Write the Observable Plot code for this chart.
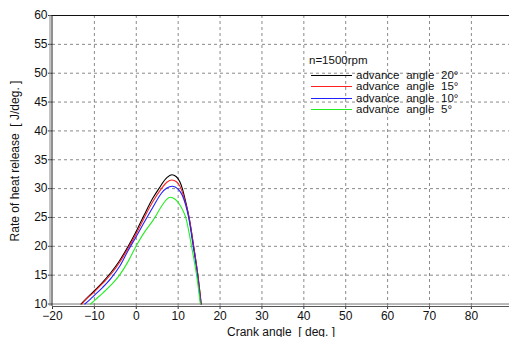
<!DOCTYPE html>
<html>
<head>
<meta charset="utf-8">
<script src="https://cdn.jsdelivr.net/npm/d3@7"></script>
<script src="https://cdn.jsdelivr.net/npm/@observablehq/plot@0.6"></script>
<style>
  html, body { margin: 0; padding: 0; background: #fff; }
  #wrap { position: relative; width: 509px; height: 337px; font-family: "Liberation Sans", Arial, sans-serif; }
  #legend { position: absolute; left: 309px; top: 54px; font-size: 11.5px; color: #111; line-height: 11.3px; }
  #legend .title { height: 16px; line-height: 13px; }
  #legend .row { display: flex; align-items: center; word-spacing: 3.5px; height: 11.3px; }
  #legend .sw { width: 41px; height: 0; border-top: 1.2px solid; margin-right: 4px; margin-left: 2px; }
</style>
</head>
<body>
<div id="wrap"></div>
<script>
// ---- data ----
const legendTitle = "n=1500rpm";
const seriesNames = ["advance angle 20°", "advance angle 15°", "advance angle 10°", "advance angle 5°"];
const seriesColors = ["#000000", "#ff2020", "#2020ff", "#22ee22"];

const angle20 = [-13.2, -12, -10, -8, -6, -4, -2, 0, 2, 4, 5.4, 7.3, 8.5, 9.5, 10.4, 11, 11.7, 12.6, 13.7, 14.7, 15.5];
const rate20  = [10.0, 10.9, 12.3, 13.8, 15.5, 17.5, 19.9, 22.6, 25.6, 28.4, 30.0, 31.9, 32.4, 32.1, 31.2, 30.0, 28.0, 25.0, 20.0, 15.0, 10.0];

const angle15 = [-13.0, -12, -10, -8, -6, -4, -2, 0, 2, 4, 6, 7.3, 8.5, 9.6, 10.5, 11.3, 12.6, 13.7, 14.7, 15.5];
const rate15  = [10.0, 10.8, 12.1, 13.6, 15.2, 17.2, 19.6, 22.2, 25.1, 27.8, 30.0, 31.1, 31.5, 31.2, 30.3, 28.7, 25.0, 20.0, 15.0, 10.0];

const angle10 = [-12.3, -11, -10, -8, -6, -4, -2, 0, 2, 4, 6, 7.3, 8.6, 10.0, 11.0, 12.5, 13.6, 14.6, 15.4];
const rate10  = [10.0, 10.8, 11.5, 12.9, 14.5, 16.5, 19.2, 21.7, 24.3, 26.8, 29.2, 30.1, 30.4, 29.9, 28.8, 25.0, 20.0, 15.0, 10.0];

const angle5  = [-10.9, -10, -8, -6, -4, -2, 0, 2, 4, 6, 7.2, 8.1, 9.2, 10.3, 11.0, 11.8, 13.2, 14.4, 15.3];
const rate5   = [10.0, 10.6, 11.9, 13.3, 15.0, 17.3, 20.1, 22.5, 24.5, 26.9, 28.1, 28.5, 28.2, 27.3, 26.4, 25.0, 20.0, 15.0, 10.0];

const xTicks = [-20, -10, 0, 10, 20, 30, 40, 50, 60, 70, 80];
const yTicks = [10, 15, 20, 25, 30, 35, 40, 45, 50, 55, 60];
const xDomain = [-20, 89.1];
const yDomain = [9.57, 60];
const xLabel = "Crank angle  [ deg. ]";
const yLabel = "Rate of heat release  [ J/deg. ]";

// ---- build table ----
const allAngles = [angle20, angle15, angle10, angle5];
const allRates = [rate20, rate15, rate10, rate5];
const rows = [];
seriesNames.forEach((name, i) => {
  allAngles[i].forEach((a, j) => rows.push({series: name, angle: a, rate: allRates[i][j]}));
});

const chart = Plot.plot({
  width: 509,
  height: 337,
  marginLeft: 52,
  marginRight: 0,
  marginTop: 15,
  marginBottom: 31,
  style: {fontFamily: "Liberation Sans, Arial, sans-serif", fontSize: "12px", color: "#111", background: "#fff"},
  x: {domain: xDomain},
  y: {domain: yDomain},
  color: {domain: seriesNames, range: seriesColors},
  marks: [
    Plot.gridX(xTicks.slice(1), {stroke: "#8a8a8a", strokeOpacity: 1, strokeDasharray: "3,3"}),
    Plot.gridY(yTicks.slice(1, -1), {stroke: "#8a8a8a", strokeOpacity: 1, strokeDasharray: "3,3"}),
    Plot.axisX(xTicks, {tickSize: 3, tickPadding: 2, fontSize: 12, label: xLabel, labelArrow: "none", labelAnchor: "center", labelOffset: 29, stroke: "#333"}),
    Plot.axisY(yTicks, {tickSize: 4, tickPadding: 1, fontSize: 12, label: yLabel, labelArrow: "none", labelAnchor: "center", labelOffset: 42, stroke: "#333"}),
    Plot.ruleY([yDomain[1]], {stroke: "#111"}),
    Plot.ruleY([yTicks[0]], {stroke: "#777"}),
    Plot.ruleY([yDomain[0]], {stroke: "#555"}),
    Plot.ruleX([xDomain[0]], {stroke: "#222", dx: -0.5}),
    Plot.ruleX([xDomain[0]], {stroke: "#888", dx: -2.5}),
    Plot.line(rows, {x: "angle", y: "rate", z: "series", stroke: "series", strokeWidth: 1.1, curve: "monotone-x"})
  ]
});

const wrap = document.getElementById("wrap");
wrap.appendChild(chart);

const legend = document.createElement("div");
legend.id = "legend";
const t = document.createElement("div");
t.className = "title";
t.textContent = legendTitle;
legend.appendChild(t);
seriesNames.forEach((name, i) => {
  const r = document.createElement("div");
  r.className = "row";
  const sw = document.createElement("span");
  sw.className = "sw";
  sw.style.borderColor = seriesColors[i];
  const tx = document.createElement("span");
  tx.textContent = name;
  r.appendChild(sw);
  r.appendChild(tx);
  legend.appendChild(r);
});
wrap.appendChild(legend);
</script>
</body>
</html>
